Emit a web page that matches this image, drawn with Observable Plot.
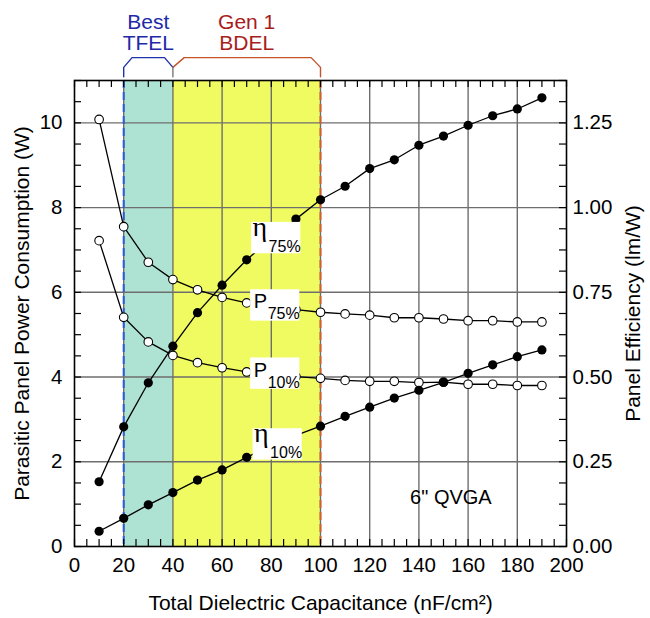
<!DOCTYPE html>
<html>
<head>
<meta charset="utf-8">
<script src="https://cdn.jsdelivr.net/npm/d3@7"></script>
<script src="https://cdn.jsdelivr.net/npm/@observablehq/plot@0.6"></script>
<style>
  html, body { margin: 0; padding: 0; background: #fff; }
  #chart svg { display: block; }
</style>
</head>
<body>
<div id="chart"></div>
<script>
// ---- data ----
const capacitance = [10,20,30,40,50,60,70,80,90,100,110,120,130,140,150,160,170,180,190];
// Panel power consumption (W), left axis
const power75 = [10.08,7.55,6.71,6.30,6.06,5.88,5.75,5.66,5.59,5.53,5.49,5.46,5.40,5.40,5.37,5.33,5.33,5.30,5.30];
const power10 = [7.22,5.41,4.83,4.51,4.34,4.22,4.12,4.06,4.01,3.97,3.92,3.90,3.90,3.87,3.88,3.83,3.83,3.80,3.80];
// Panel efficiency (lm/W), right axis
const eff75 = [0.191,0.353,0.483,0.591,0.690,0.771,0.846,0.909,0.966,1.023,1.063,1.115,1.141,1.184,1.211,1.243,1.271,1.291,1.324];
const eff10 = [0.045,0.083,0.123,0.159,0.196,0.226,0.263,0.299,0.328,0.355,0.384,0.411,0.438,0.461,0.484,0.511,0.536,0.560,0.580];

const xTickLabels = [0,20,40,60,80,100,120,140,160,180,200];
const leftTickLabels = [0,2,4,6,8,10];
const rightTickLabels = ["0.00","0.25","0.50","0.75","1.00","1.25"];
const effPerPower = 1.25 / 10; // right axis (lm/W) aligned with left axis (W)

const regions = [
  {x1: 20, x2: 40, fill: "#aee2d2"},
  {x1: 40, x2: 100, fill: "#f0fb62"}
];
const dashedEdges = [
  {x: 20, stroke: "#2a5bd8"},
  {x: 100, stroke: "#d2602e"}
];
const brackets = [
  {g: "tfel", x: 20, y: 11.09}, {g: "tfel", x: 20, y: 11.31}, {g: "tfel", x: 23.4, y: 11.54},
  {g: "tfel", x: 36.6, y: 11.54}, {g: "tfel", x: 40, y: 11.31},
  {g: "bdel", x: 40, y: 11.31}, {g: "bdel", x: 44.6, y: 11.54}, {g: "bdel", x: 96.2, y: 11.54},
  {g: "bdel", x: 100, y: 11.31}, {g: "bdel", x: 100, y: 11.09},
  {g: "mid", x: 40, y: 11.31}, {g: "mid", x: 40, y: 11.09}
];
const bracketColors = {tfel: "#2233aa", bdel: "#c4532e", mid: "#777777"};
const bracketText = [
  {text: "Best", x: 30, y: 12.22, color: "#1e2aa8"},
  {text: "TFEL", x: 30, y: 11.72, color: "#1e2aa8"},
  {text: "Gen 1", x: 70, y: 12.22, color: "#a81c1c"},
  {text: "BDEL", x: 70, y: 11.72, color: "#a81c1c"}
];
const seriesLabels = [
  {sym: "\u03B7", sub: "75%", x: 72, y: 7.28, serif: true},
  {sym: "P", sub: "75%", x: 71.6, y: 5.69, serif: false},
  {sym: "P", sub: "10%", x: 71.6, y: 4.08, serif: false},
  {sym: "\u03B7", sub: "10%", x: 72.6, y: 2.41, serif: true}
];
const note = [{text: "6\" QVGA", x: 153, y: 1.0}];

// ---- build ----
const W = 650, H = 618;
const mL = 74, mR = 84, mT = 80, mB = 72;
const frameW = W - mL - mR, frameH = H - mT - mB;

const rows = (vals) => capacitance.map((c, i) => ({c, v: vals[i]}));
const p75 = rows(power75), p10 = rows(power10);
const e75 = rows(eff75), e10 = rows(eff10);
const effY = d => d.v / effPerPower;

const minorX = d3.range(0, 201, 5);
const minorY = d3.range(0, 11.001, 0.5);
const font = "Liberation Sans, Arial, Helvetica, sans-serif";

const chart = Plot.plot({
  width: W, height: H,
  marginLeft: mL, marginRight: mR, marginTop: mT, marginBottom: mB,
  x: {domain: [0, 200]},
  y: {domain: [0, 11]},
  style: {fontFamily: font, fontSize: "20px", color: "black", background: "white"},
  marks: [
    Plot.rect(regions, {x1: "x1", x2: "x2", fill: "fill"}),
    Plot.ruleX(d3.range(20, 200, 20), {stroke: "#6e6e6e", strokeWidth: 1.4}),
    Plot.ruleY(d3.range(2, 11, 2), {stroke: "#6e6e6e", strokeWidth: 1.4}),
    Plot.ruleX(dashedEdges, {x: "x", stroke: "stroke", strokeWidth: 2, strokeDasharray: "8,4"}),
    // inward ticks
    Plot.tickX(minorX, {x: d => d, insetTop: frameH - 7, stroke: "black", strokeWidth: 1.2}),
    Plot.tickX(minorX, {x: d => d, insetBottom: frameH - 7, stroke: "black", strokeWidth: 1.2}),
    Plot.tickY(minorY, {y: d => d, insetRight: frameW - 7, stroke: "black", strokeWidth: 1.2}),
    Plot.tickY(minorY, {y: d => d, insetLeft: frameW - 7, stroke: "black", strokeWidth: 1.2}),
    Plot.frame({stroke: "black", strokeWidth: 1.6}),
    // series
    Plot.line(p75, {x: "c", y: "v", stroke: "black", strokeWidth: 1.3}),
    Plot.line(p10, {x: "c", y: "v", stroke: "black", strokeWidth: 1.3}),
    Plot.line(e75, {x: "c", y: effY, stroke: "black", strokeWidth: 1.3}),
    Plot.line(e10, {x: "c", y: effY, stroke: "black", strokeWidth: 1.3}),
    Plot.dot(p75, {x: "c", y: "v", r: 4.3, fill: "white", stroke: "black", strokeWidth: 1.1}),
    Plot.dot(p10, {x: "c", y: "v", r: 4.3, fill: "white", stroke: "black", strokeWidth: 1.1}),
    Plot.dot(e75, {x: "c", y: effY, r: 4.6, fill: "black"}),
    Plot.dot(e10, {x: "c", y: effY, r: 4.6, fill: "black"}),
    // series labels with white boxes
    Plot.rect(seriesLabels, {x1: d => d.x, x2: d => d.x + 20, y1: d => d.y - 0.37, y2: d => d.y + 0.37, fill: "white"}),
    Plot.text(seriesLabels.filter(d => d.serif), {x: "x", y: "y", text: "sym", textAnchor: "start", lineAnchor: "bottom", dx: 1, dy: -2, fontSize: 28, fontFamily: "Liberation Serif, DejaVu Serif, serif"}),
    Plot.text(seriesLabels.filter(d => !d.serif), {x: "x", y: "y", text: "sym", textAnchor: "start", lineAnchor: "bottom", dx: 3, dy: 3, fontSize: 20}),
    Plot.text(seriesLabels, {x: "x", y: "y", text: "sub", textAnchor: "start", lineAnchor: "bottom", dx: 17, dy: 14, fontSize: 16}),
    // brackets
    Plot.line(brackets, {x: "x", y: "y", z: "g", stroke: d => bracketColors[d.g], strokeWidth: 1.4}),
    Plot.text(bracketText, {x: "x", y: "y", text: "text", fill: "color", lineAnchor: "bottom", fontSize: 21}),
    Plot.text(note, {x: "x", y: "y", text: "text", lineAnchor: "bottom", fontSize: 20}),
    // axes
    Plot.axisX({ticks: xTickLabels, tickSize: 0, tickPadding: 11, label: null, fontSize: 20.5}),
    Plot.axisY({anchor: "left", ticks: leftTickLabels, tickSize: 0, tickPadding: 12, label: null, fontSize: 20.5}),
    Plot.axisY({anchor: "right", ticks: leftTickLabels, tickFormat: (d, i) => rightTickLabels[i], tickSize: 0, tickPadding: 6, label: null, fontSize: 20.5}),
    // axis titles
    Plot.text(["Parasitic Panel Power Consumption (W)"], {frameAnchor: "left", textAnchor: "middle", lineAnchor: "middle", dx: -52, rotate: -90, fontSize: 21}),
    Plot.text(["Panel Efficiency (lm/W)"], {frameAnchor: "right", textAnchor: "middle", lineAnchor: "middle", dx: 67, rotate: -90, fontSize: 21}),
    Plot.text(["Total Dielectric Capacitance (nF/cm\u00B2)"], {frameAnchor: "bottom", dy: 63, fontSize: 21})
  ]
});
document.getElementById("chart").appendChild(chart);
</script>
</body>
</html>
